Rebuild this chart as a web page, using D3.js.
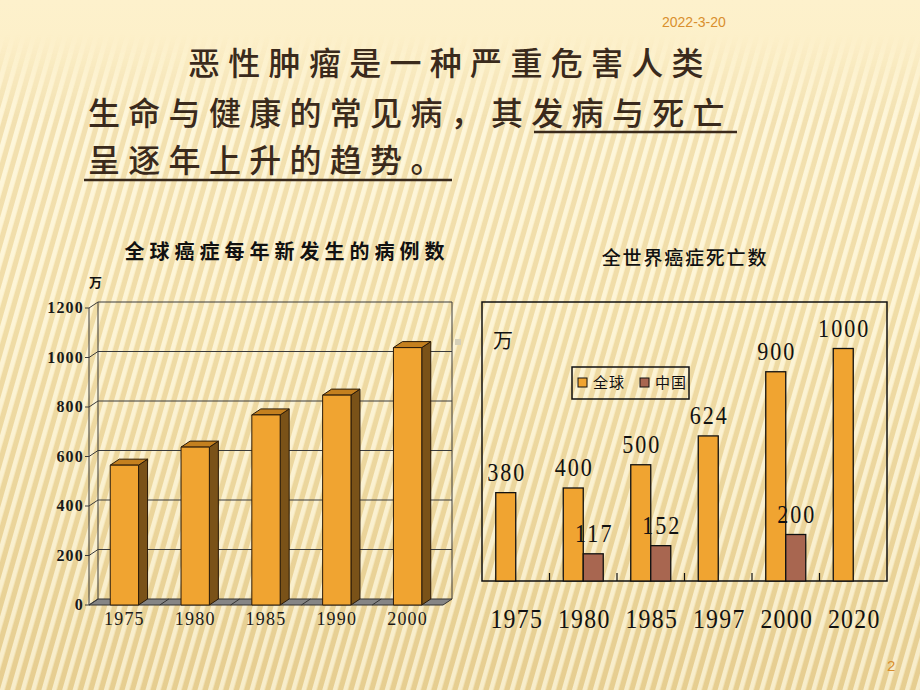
<!DOCTYPE html>
<html lang="zh">
<head>
  <meta charset="UTF-8">
  <title>癌症发病与死亡</title>
  <script src="https://d3js.org/d3.v7.min.js"></script>
  <style>
    body { margin: 0; background: #fcf0c9; }
    svg { display: block; }
    .cjk { font-family: "Noto Sans CJK SC", sans-serif; }
    .num { font-family: "Liberation Serif", serif; }
  </style>
</head>
<body>
  <svg id="slide" width="920" height="690"></svg>

  <script>
    // left chart: new cases per year (万)
    const newYears = ["1975", "1980", "1985", "1990", "2000"];
    const newCases = [565, 638, 768, 848, 1040];
    const newTicks = [0, 200, 400, 600, 800, 1000, 1200];

    // right chart: deaths (万)
    const deathYears = ["1975", "1980", "1985", "1997", "2000", "2020"];
    const deathWorld = [380, 400, 500, 624, 900, 1000];
    const deathChina = [null, 117, 152, null, 200, null];
    const seriesNames = ["全球", "中国"];
    const seriesColors = ["#f0a431", "#a86650"];

    const svg = d3.select("#slide");
    const W = 920, H = 690;

    // ---- background ----
    const defs = svg.append("defs");
    const bg = defs.append("linearGradient").attr("id", "bg")
      .attr("x1", 0).attr("y1", 0).attr("x2", 0).attr("y2", 1);
    bg.append("stop").attr("offset", 0).attr("stop-color", "#fdf1cc");
    bg.append("stop").attr("offset", 0.45).attr("stop-color", "#f9e9b9");
    bg.append("stop").attr("offset", 1).attr("stop-color", "#ecd69c");

    const pat = defs.append("pattern").attr("id", "stripes")
      .attr("width", 10).attr("height", 40)
      .attr("patternUnits", "userSpaceOnUse")
      .attr("patternTransform", "rotate(16)");
    pat.append("rect").attr("width", 4.5).attr("height", 40)
      .attr("fill", "#fffcea").attr("opacity", 0.6);
    pat.append("rect").attr("x", 5).attr("width", 5).attr("height", 40)
      .attr("fill", "#cfb168").attr("opacity", 0.22);

    const fade = defs.append("linearGradient").attr("id", "fade")
      .attr("x1", 0).attr("y1", 0).attr("x2", 0).attr("y2", 1);
    fade.append("stop").attr("offset", 0.05).attr("stop-color", "#000");
    fade.append("stop").attr("offset", 0.18).attr("stop-color", "#fff");
    fade.append("stop").attr("offset", 1).attr("stop-color", "#fff");
    defs.append("mask").attr("id", "fadeMask")
      .append("rect").attr("width", W).attr("height", H).attr("fill", "url(#fade)");

    svg.append("rect").attr("width", W).attr("height", H).attr("fill", "url(#bg)");
    svg.append("rect").attr("width", W).attr("height", H)
      .attr("fill", "url(#stripes)").attr("mask", "url(#fadeMask)");

    // date + page number
    svg.append("text").attr("x", 662).attr("y", 27)
      .attr("font-family", "Liberation Sans, sans-serif").attr("font-size", 14)
      .attr("fill", "#d98f2e").text("2022-3-20");
    svg.append("text").attr("x", 887).attr("y", 671)
      .attr("font-family", "Liberation Sans, sans-serif").attr("font-size", 15)
      .attr("fill", "#d98f2e").text("2");

    // ---- heading text ----
    const ink = "#3a2a1c";
    const lines = [
      { x: 188, y: 75, t: "恶性肿瘤是一种严重危害人类" },
      { x: 88, y: 125, t: "生命与健康的常见病，其发病与死亡" },
      { x: 88, y: 172, t: "呈逐年上升的趋势。" }
    ];
    svg.append("g").selectAll("text").data(lines).join("text")
      .attr("class", "cjk")
      .attr("x", d => d.x).attr("y", d => d.y)
      .attr("font-size", 32).attr("font-weight", 500).attr("letter-spacing", 8.3)
      .attr("fill", ink).text(d => d.t);
    svg.append("line").attr("x1", 534).attr("x2", 737).attr("y1", 132).attr("y2", 132)
      .attr("stroke", ink).attr("stroke-width", 2.5);
    svg.append("line").attr("x1", 84).attr("x2", 452).attr("y1", 180).attr("y2", 180)
      .attr("stroke", ink).attr("stroke-width", 2.5);

    // ---- left chart (3D columns) ----
    const L = svg.append("g");
    const dx = 9, dy = -6;
    const xL = d3.scaleBand().domain(newYears).range([89, 443]);
    const yL = d3.scaleLinear().domain([0, 1200]).range([605, 308]);
    const barW = xL.bandwidth() * 0.4;

    L.append("text").attr("class", "cjk").attr("x", 287).attr("y", 259)
      .attr("text-anchor", "middle").attr("font-size", 20).attr("font-weight", 700)
      .attr("letter-spacing", 5).attr("fill", "#111").text("全球癌症每年新发生的病例数");
    L.append("text").attr("class", "cjk").attr("x", 89).attr("y", 287)
      .attr("font-size", 13).attr("font-weight", 700).attr("fill", "#111").text("万");

    // floor
    const x0 = xL.range()[0], x1 = xL.range()[1], y0 = yL(0);
    L.append("path")
      .attr("d", `M${x0},${y0}L${x1},${y0}L${x1 + dx},${y0 + dy}L${x0 + dx},${y0 + dy}Z`)
      .attr("fill", "#858585").attr("stroke", "#333").attr("stroke-width", 1);
    L.append("g").selectAll("line").data(newYears.slice(1)).join("line")
      .attr("x1", d => xL(d)).attr("x2", d => xL(d) + dx)
      .attr("y1", y0).attr("y2", y0 + dy)
      .attr("stroke", "#333");

    // walls + gridlines
    const grid = L.append("g").attr("stroke", "#3a3a3a").attr("stroke-width", 1).attr("fill", "none");
    grid.selectAll(".g").data(newTicks.slice(1)).join("line")
      .attr("x1", x0 + dx).attr("x2", x1 + dx)
      .attr("y1", d => yL(d) + dy).attr("y2", d => yL(d) + dy);
    grid.selectAll(".d").data(newTicks).join("line")
      .attr("x1", x0).attr("x2", x0 + dx)
      .attr("y1", d => yL(d)).attr("y2", d => yL(d) + dy);
    grid.selectAll(".t").data(newTicks).join("line")
      .attr("x1", x0 - 4).attr("x2", x0)
      .attr("y1", d => yL(d)).attr("y2", d => yL(d));
    grid.append("line").attr("x1", x0).attr("x2", x0).attr("y1", yL(1200)).attr("y2", y0);
    grid.append("line").attr("x1", x0 + dx).attr("x2", x0 + dx)
      .attr("y1", yL(1200) + dy).attr("y2", y0 + dy);
    grid.append("line").attr("x1", x1 + dx).attr("x2", x1 + dx)
      .attr("y1", yL(1200) + dy).attr("y2", y0 + dy);

    L.append("g").selectAll("text").data(newTicks).join("text")
      .attr("class", "num").attr("x", x0 - 5).attr("y", d => yL(d) + 5)
      .attr("text-anchor", "end").attr("font-size", 16).attr("font-weight", 700)
      .attr("letter-spacing", 1.2).attr("fill", "#1a1a1a").text(d => d);
    L.append("g").selectAll("text").data(newYears).join("text")
      .attr("class", "num").attr("x", d => xL(d) + xL.bandwidth() / 2).attr("y", 625)
      .attr("text-anchor", "middle").attr("font-size", 18)
      .attr("letter-spacing", 1.2).attr("fill", "#1a1a1a").text(d => d);

    // columns
    const bars = L.append("g").selectAll("g").data(newYears.map((y, i) => ({ y, v: newCases[i] })))
      .join("g").attr("stroke", "#2a1a08").attr("stroke-width", 1).attr("stroke-linejoin", "round");
    const bx = d => xL(d.y) + (xL.bandwidth() - barW) / 2;
    bars.append("path").attr("fill", "#7a5218")
      .attr("d", d => {
        const a = bx(d) + barW, t = yL(d.v);
        return `M${a},${t}L${a + dx},${t + dy}L${a + dx},${y0 + dy}L${a},${y0}Z`;
      });
    bars.append("path").attr("fill", "#c4801f")
      .attr("d", d => {
        const a = bx(d), t = yL(d.v);
        return `M${a},${t}L${a + dx},${t + dy}L${a + barW + dx},${t + dy}L${a + barW},${t}Z`;
      });
    bars.append("rect").attr("fill", "#f0a431")
      .attr("x", bx).attr("y", d => yL(d.v))
      .attr("width", barW).attr("height", d => y0 - yL(d.v));

    L.append("rect").attr("x", 455).attr("y", 339).attr("width", 6).attr("height", 6)
      .attr("fill", "#d6d0b8");

    // ---- right chart (deaths) ----
    const R = svg.append("g");
    const xR = d3.scaleBand().domain(deathYears).range([482, 887]);
    const yR = d3.scaleLinear().domain([0, 1200]).range([581, 302]);
    const sub = d3.scaleBand().domain([0, 1]).range([xR.bandwidth() / 2 - 20, xR.bandwidth() / 2 + 20]);

    R.append("text").attr("class", "cjk").attr("x", 685).attr("y", 265)
      .attr("text-anchor", "middle").attr("font-size", 19).attr("font-weight", 500)
      .attr("letter-spacing", 1.8).attr("fill", "#111").text("全世界癌症死亡数");

    R.append("rect").attr("x", 482).attr("y", 302).attr("width", 405).attr("height", 279)
      .attr("fill", "none").attr("stroke", "#111").attr("stroke-width", 1.5);
    R.append("g").selectAll("line").data(deathYears.slice(1)).join("line")
      .attr("x1", d => xR(d)).attr("x2", d => xR(d))
      .attr("y1", yR(0)).attr("y2", yR(0) - 8).attr("stroke", "#111").attr("stroke-width", 1.2);

    R.append("text").attr("class", "cjk").attr("x", 493).attr("y", 348)
      .attr("font-size", 20).attr("fill", "#111").text("万");

    const pts = [];
    deathYears.forEach((y, i) => {
      [deathWorld[i], deathChina[i]].forEach((v, s) => {
        if (v != null) pts.push({ y, s, v });
      });
    });
    R.append("g").selectAll("rect").data(pts).join("rect")
      .attr("x", d => xR(d.y) + sub(d.s)).attr("y", d => yR(d.v))
      .attr("width", sub.bandwidth()).attr("height", d => yR(0) - yR(d.v))
      .attr("fill", d => seriesColors[d.s]).attr("stroke", "#111").attr("stroke-width", 1.3);
    // condensed serif digits (narrow and tall, like the original)
    R.append("g").selectAll("text").data(pts).join("text")
      .attr("class", "num")
      .attr("transform", d => `translate(${xR(d.y) + sub(d.s) + sub.bandwidth() / 2 + 1},${yR(d.v) - 12}) scale(0.85,1)`)
      .attr("text-anchor", "middle").attr("font-size", 26).attr("letter-spacing", 2.4)
      .attr("fill", "#111").text(d => d.v);

    R.append("g").selectAll("text").data(deathYears).join("text")
      .attr("class", "num")
      .attr("transform", d => `translate(${xR(d) + xR.bandwidth() / 2 + 1},628) scale(0.85,1)`)
      .attr("text-anchor", "middle").attr("font-size", 28).attr("letter-spacing", 1.5)
      .attr("fill", "#111").text(d => d);

    // legend
    const lg = R.append("g");
    lg.append("rect").attr("x", 572).attr("y", 367).attr("width", 117).attr("height", 32)
      .attr("fill", "none").attr("stroke", "#111").attr("stroke-width", 1.5);
    const items = lg.selectAll("g").data(seriesNames).join("g")
      .attr("transform", (d, i) => `translate(${578 + i * 62},378)`);
    items.append("rect").attr("width", 9).attr("height", 9)
      .attr("fill", (d, i) => seriesColors[i]).attr("stroke", "#111");
    items.append("text").attr("class", "cjk").attr("x", 15).attr("y", 10)
      .attr("font-size", 15).attr("letter-spacing", 1).attr("fill", "#111").text(d => d);
  </script>
</body>
</html>
